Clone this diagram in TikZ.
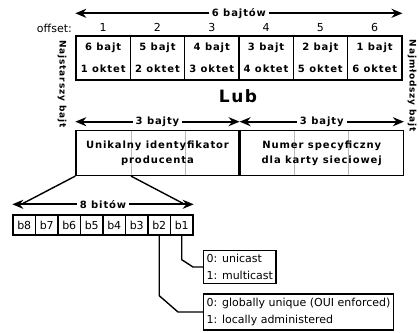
\documentclass[tikz,border=0pt]{standalone}
\usepackage{fontspec}
\setmainfont{DejaVu Sans}
\newfontfamily\spacedfont{DejaVu Sans}[LetterSpace=9]
\newcommand\lblfont{\spacedfont\bfseries}
\usetikzlibrary{arrows.meta,positioning,backgrounds}

\begin{document}
\begin{tikzpicture}[x=1pt,y=-1pt,
        cell/.style={draw,line width=1.4pt,minimum width=54.3pt,minimum height=44pt,
                     inner sep=0pt,align=center,font=\lblfont\fontsize{10}{22}\selectfont},
        half/.style={draw,line width=1.4pt,minimum width=162.9pt,minimum height=45pt,
                     inner sep=0pt,align=center,anchor=north west,
                     font=\lblfont\fontsize{10}{15}\selectfont},
        bit/.style={draw,line width=1.4pt,minimum width=22.5pt,minimum height=20pt,
                    inner sep=0pt,font=\fontsize{11}{12}\selectfont},
        note/.style={draw,line width=1.4pt,align=left,inner xsep=3pt,inner ysep=4pt,
                     anchor=west,font=\fontsize{11}{17}\selectfont},
        offnum/.style={inner sep=1pt,font=\fontsize{11}{12}\selectfont},
        dim/.style={{Stealth[length=11pt,width=9pt]}-{Stealth[length=11pt,width=9pt]},
                    line width=1.8pt},
        lab/.style={fill=white,inner xsep=3pt,inner ysep=1pt,
                    font=\lblfont\fontsize{10}{11}\selectfont},
        side/.style={rotate=-90,font=\lblfont\fontsize{9}{10}\selectfont},
        link/.style={line width=1.4pt},
        divider/.style={gray!55,line width=0.8pt}]
  \useasboundingbox (0,0) rectangle (419,332);

  % bytes of the address
  \foreach \b [count=\i] in {6,5,4,3,2,1} {
    \node[cell] (c\i) at ({76+54.3*(\i-0.5)},58) {\b\ bajt\\\i\ oktet};
    \node[offnum] (o\i) at ([yshift=8pt]c\i.north) {\i};
  }
  \node[offnum,anchor=east] (off) at (73,28) {offset:};
  \draw[dim] ([yshift=22pt]c1.north west) -- ([yshift=22pt]c6.north east)
        node[midway,lab] {6 bajtów};
  \node[side] (old) at (62,84) {Najstarszy bajt};
  \node[side] (young) at (412,86) {Najmłodszy bajt};

  \node[font=\lblfont\fontsize{17}{20}\selectfont] (lub) at (238,96) {Lub};

  % OUI / NIC halves
  \node[half] (h1) at ([yshift=-49pt]c1.south west) {Unikalny identyfikator\\producenta};
  \node[half] (h2) at (h1.north east) {Numer specyficzny\\dla karty sieciowej};
  \begin{scope}[on background layer]
    \foreach \k in {1,2,4,5}
      \draw[divider] (c\k.east |- h1.north) -- (c\k.east |- h1.south);
  \end{scope}
  \draw[dim] ([yshift=8pt]h1.north west) -- ([yshift=8pt]h1.north east)
        node[midway,lab] {3 bajty};
  \draw[dim] ([yshift=8pt]h2.north west) -- ([yshift=8pt]h2.north east)
        node[midway,lab] {3 bajty};

  % bits of the first byte
  \foreach \n [count=\i] in {8,7,6,5,4,3,2,1}
    \node[bit] (b\n) at ({13+22.5*(\i-0.5)},225) {b\n};
  \draw[dim] ([yshift=10pt]b8.north west) -- ([yshift=10pt]b1.north east)
        node[midway,lab] {8 bitów};
  \coordinate (l8) at ([xshift=9pt,yshift=10pt]b8.north west);
  \coordinate (r1) at ([xshift=-9pt,yshift=10pt]b1.north east);
  \draw[link] (h1.south west) -- (l8);
  \draw[link] (c1.east |- h1.south) -- (r1);

  % meaning of b1 and b2
  \node[note] (n1) at (203,267) {0: unicast\\1: multicast};
  \node[note] (n2) at (203,312) {0: globally unique (OUI enforced)\\1: locally administered};
  \draw[link] (b1.south) -- ++(0,24) -- ([xshift=-10pt]n1.west) -- (n1.west);
  \draw[link] (b2.south) -- ++(0,60) -- ([xshift=-25pt]n2.west) -- (n2.west);
\end{tikzpicture}
\end{document}
